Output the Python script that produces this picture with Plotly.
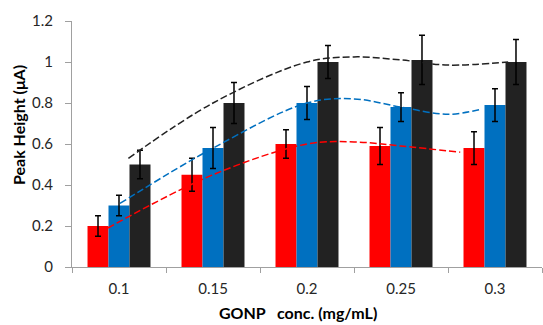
import plotly.graph_objects as go

categories = ["0.1", "0.15", "0.2", "0.25", "0.3"]

red_vals = [0.20, 0.45, 0.60, 0.59, 0.58]
red_err = [0.05, 0.08, 0.07, 0.09, 0.08]
blue_vals = [0.30, 0.58, 0.80, 0.78, 0.79]
blue_err = [0.05, 0.10, 0.08, 0.07, 0.08]
black_vals = [0.50, 0.80, 1.00, 1.01, 1.00]
black_err = [0.07, 0.10, 0.08, 0.12, 0.11]

# dashed trend curves (x in category-index units)
red_trend_x = [-0.12, 1, 2, 2.5, 3, 3.63]
red_trend_y = [0.19, 0.45, 0.60, 0.61, 0.59, 0.56]
blue_trend_x = [0.01, 1, 2, 2.5, 3, 3.5, 3.86]
blue_trend_y = [0.31, 0.58, 0.80, 0.82, 0.78, 0.745, 0.77]
black_trend_x = [0.10, 1, 2, 2.5, 3, 3.5, 4.14]
black_trend_y = [0.53, 0.80, 1.00, 1.025, 1.01, 0.985, 1.00]

RED = "#FF0000"
BLUE = "#0070C0"
BLACK = "#222222"
FONT = "Lato"

fig = go.Figure()
for vals, err, col in [(red_vals, red_err, RED), (blue_vals, blue_err, BLUE), (black_vals, black_err, BLACK)]:
    fig.add_trace(go.Bar(
        x=categories, y=vals, marker=dict(color=col, line=dict(width=0)),
        error_y=dict(type="data", array=err, visible=True, color="#000000", thickness=1.5, width=3),
        showlegend=False,
    ))

for tx, ty, col in [(red_trend_x, red_trend_y, RED), (blue_trend_x, blue_trend_y, BLUE), (black_trend_x, black_trend_y, BLACK)]:
    fig.add_trace(go.Scatter(
        x=tx, y=ty, xaxis="x2", mode="lines",
        line=dict(color=col, width=1.5, dash="7px,3px", shape="spline", smoothing=1.0),
        showlegend=False, hoverinfo="skip",
    ))

fig.update_layout(
    width=543, height=325,
    margin=dict(l=72, r=1, t=21, b=58),
    paper_bgcolor="white", plot_bgcolor="white",
    barmode="group", bargap=0.33, bargroupgap=0,
    font=dict(family=FONT, size=15, color="#262626"),
    xaxis=dict(
        type="category", range=[-0.5, 4.5], tickson="boundaries",
        ticks="outside", ticklen=5, tickcolor="#A0A0A0", tickwidth=1,
        showline=True, linecolor="#A0A0A0", linewidth=1,
        showgrid=False, zeroline=False, ticklabelstandoff=8,
        tickfont=dict(family=FONT, size=15, color="#262626"),
    ),
    xaxis2=dict(overlaying="x", range=[-0.5, 4.5], visible=False),
    yaxis=dict(
        range=[0, 1.2], dtick=0.2, tick0=0,
        ticks="outside", ticklen=6, tickcolor="#A0A0A0", tickwidth=1,
        showline=True, linecolor="#A0A0A0", linewidth=1,
        showgrid=False, zeroline=False, ticklabelstandoff=9,
        tickfont=dict(family=FONT, size=15, color="#262626"),
    ),
    annotations=[
        dict(text="<b>Peak Height (μA)</b>", xref="paper", yref="paper",
             x=-0.115, y=0.577, xanchor="center", yanchor="middle", textangle=-90,
             showarrow=False, font=dict(family=FONT, size=16, color="#000000")),
        dict(text="<b>GONP\u00a0\u00a0 conc. (mg/mL)</b>", xref="paper", yref="paper",
             x=0.481, y=-0.183, xanchor="center", yanchor="middle",
             showarrow=False, font=dict(family=FONT, size=16, color="#000000")),
    ],
)

fig.write_html("out.html")
